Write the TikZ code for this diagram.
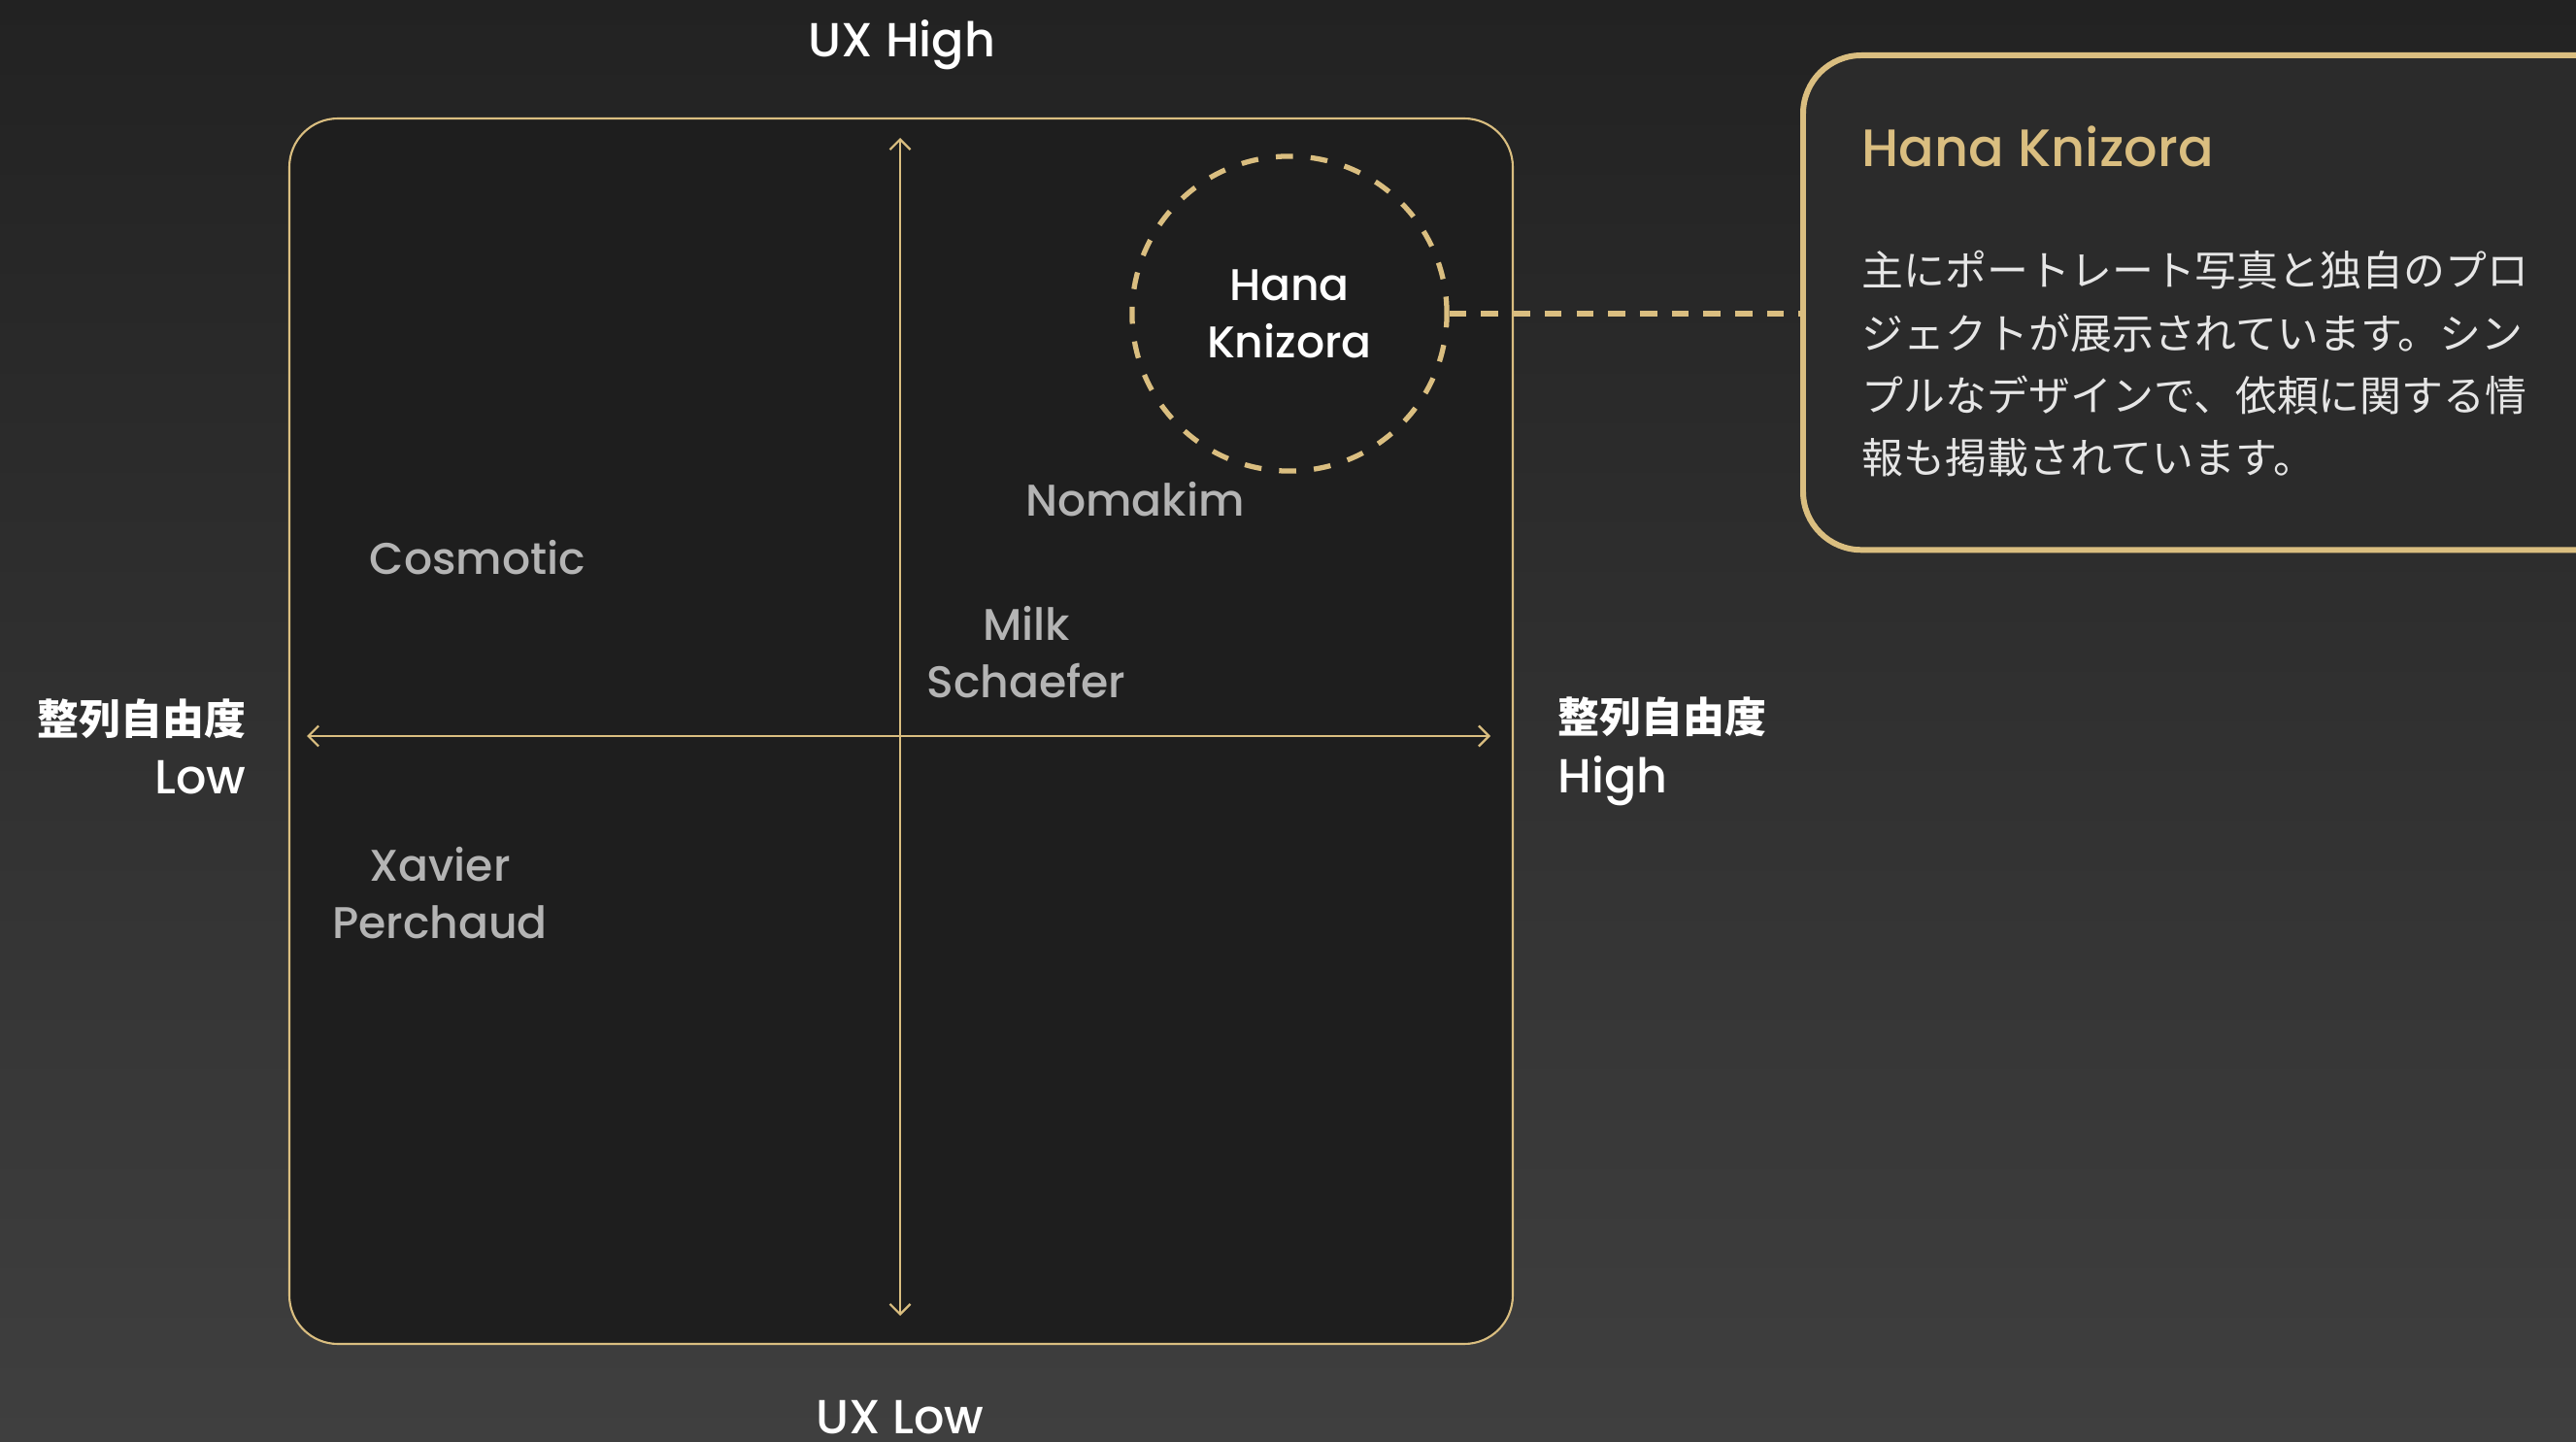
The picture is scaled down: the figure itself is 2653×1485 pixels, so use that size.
\documentclass[tikz,border=0pt]{standalone}
\usepackage{fontspec}
\setmainfont{Poppins}
\newfontfamily\medfont{Poppins Medium}
\newfontfamily\jpfont{Noto Sans CJK JP}
\usepackage{tikz}
\usetikzlibrary{arrows.meta,positioning}

\definecolor{bgtop}{HTML}{222222}
\definecolor{bgbot}{HTML}{3F3F3F}
\definecolor{boxfill}{HTML}{1E1E1E}
\definecolor{cardfill}{HTML}{2B2B2B}
\definecolor{gold}{HTML}{DABE80}
\definecolor{sitegray}{HTML}{B4B4B4}
\definecolor{bodytext}{HTML}{E6E6E6}

\tikzset{
	site/.style={text=sitegray, font=\medfont\fontsize{13}{16.8}\selectfont, align=center},
	axislabel/.style={text=white, font=\medfont\fontsize{14}{17.5}\selectfont, inner sep=0pt},
	axisline/.style={gold, line width=0.65pt, {Straight Barb[length=3pt,width=6pt]}-{Straight Barb[length=3pt,width=6pt]}},
	leader/.style={gold, line width=1.6pt, dash pattern=on 5pt off 4.3pt},
}
\newcommand{\jpbold}[1]{{\jpfont\bfseries\fontsize{12.2}{17.5}\selectfont #1}}

\begin{document}
\begin{tikzpicture}[x=0.01cm,y=-0.01cm]
	\useasboundingbox (0,0) rectangle (2653,1485);
	\clip (0,0) rectangle (2653,1485);
	\shade[top color=bgtop,bottom color=bgbot] (0,0) rectangle (2653,1485);
	% quadrant box
	\draw[gold, line width=0.6pt, fill=boxfill, rounded corners=0.5cm] (298,122) rectangle (1558,1384);
		\coordinate (ytop) at (927,142);
		\coordinate (ybot) at (927,1355);
		\coordinate (xleft) at (316,758);
		\coordinate (xright) at (1535,758);
		\draw[axisline] (ybot) -- (ytop);
		\draw[axisline] (xleft) -- (xright);
	% axis labels
	\node[axislabel] (uxhigh) at (929,46) {UX High};
	\node[axislabel] (uxlow) at (927,1460) {UX Low};
	\node[axislabel, anchor=east, align=right] (xlow) at (254,769) {\jpbold{整列自由度}\\Low};
	\node[axislabel, anchor=west, align=left] (xhigh) at (1604,774) {\jpbold{整列自由度}\\High};
	% sites
	\node[site] (cosmotic) at (492,574) {Cosmotic};
	\node[site] (nomakim) at (1169,514) {Nomakim};
	\node[site] (milk) at (1057,672) {Milk\\Schaefer};
	\node[site] (xavier) at (453,920) {Xavier\\Perchaud};
	\node[site, text=white, circle, draw=gold, line width=1.5pt, dash pattern=on 5pt off 5.2pt,
		minimum size=3.24cm, inner sep=0pt, text depth=0pt] (hana) at (1328,323) {Hana\\Knizora};
	% detail card
	\node[draw=gold, line width=1.7pt, fill=cardfill, rounded corners=0.6cm, anchor=north west,
		minimum width=9cm, minimum height=5.09cm] (card) at (1854,54) {};
		\draw[leader] (hana.east) -- (hana.east -| card.west);
		\node[anchor=base west, inner sep=0pt, text=gold, font=\medfont\fontsize{15.4}{19}\selectfont] (cardtitle) at (1917,172) {Hana Knizora};
		\node[anchor=base west, inner sep=0pt, text=bodytext, align=left,
			font=\jpfont\fontsize{12.2}{18.3}\selectfont] (cardbody) at (1917,488)
			{主にポートレート写真と独自のプロ\\ジェクトが展示されています。シン\\プルなデザインで、依頼に関する情\\報も掲載されています。};
\end{tikzpicture}
\end{document}
